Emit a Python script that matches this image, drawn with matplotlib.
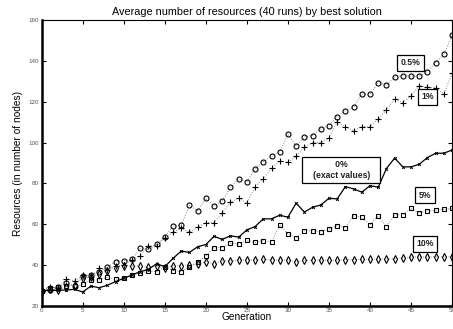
import numpy as np
import matplotlib
matplotlib.use('Agg')
import matplotlib.pyplot as plt

plt.rcParams['font.family'] = ['Liberation Sans', 'DejaVu Sans']

# # data

generations = list(range(51))

# 0.5% (circles)
res_05 = [27.4, 27.7, 29.3, 31.0, 29.8, 34.7, 35.0, 36.7, 38.8, 41.6,
          42.0, 42.7, 48.1, 47.6, 50.2, 53.8, 59.0, 59.5, 69.2, 66.6,
          72.6, 68.9, 71.3, 78.1, 82.2, 80.9, 87.0, 90.7, 93.2, 95.6,
          104.0, 98.5, 102.7, 103.5, 106.7, 108.4, 112.8, 115.6, 117.4, 123.8,
          123.8, 129.5, 128.3, 132.1, 132.9, 132.6, 132.6, 134.9, 139.3, 143.4,
          152.6]

# 1% (plus)
res_1 = [27.0, 29.3, 28.5, 33.0, 32.3, 35.0, 34.0, 38.5, 37.5, 39.5,
         40.0, 42.5, 44.3, 49.3, 49.5, 53.2, 56.0, 58.0, 56.0, 58.5,
         60.8, 60.8, 65.4, 70.8, 72.7, 70.3, 78.4, 82.2, 87.5, 91.0,
         90.4, 93.2, 97.8, 100.0, 100.0, 102.2, 110.3, 107.6, 105.9, 107.9,
         107.9, 111.5, 116.1, 121.5, 119.7, 122.9, 128.0, 127.2, 127.0, 123.9,
         134.0]

# 0% exact values (solid line)
res_0 = [27.4, 27.5, 27.5, 27.7, 28.0, 26.7, 29.6, 28.8, 30.0, 31.8,
         33.4, 35.0, 36.7, 37.8, 40.6, 39.1, 43.2, 46.8, 46.1, 48.9,
         50.0, 54.0, 52.5, 54.3, 53.6, 57.2, 58.8, 62.6, 62.6, 64.4,
         63.4, 70.3, 65.9, 68.3, 69.4, 72.7, 72.4, 78.4, 77.3, 75.7,
         78.9, 78.1, 87.3, 92.4, 88.1, 88.1, 89.4, 92.7, 94.8, 94.8,
         96.4]

# 5% (squares)
res_5 = [27.0, 28.5, 29.3, 29.8, 29.8, 30.5, 32.6, 32.6, 33.9, 32.9,
         33.7, 35.0, 36.2, 36.8, 36.7, 39.1, 37.2, 36.7, 39.1, 41.3,
         44.5, 48.5, 48.5, 50.6, 50.3, 52.0, 51.0, 51.9, 51.3, 59.5,
         55.2, 53.3, 56.8, 56.8, 56.3, 57.5, 59.3, 58.3, 64.2, 63.4,
         59.6, 64.0, 58.8, 64.7, 64.4, 67.8, 65.4, 66.5, 66.8, 67.3,
         67.8]

# 10% (diamonds)
res_10 = [27.0, 28.2, 27.7, 29.0, 30.3, 33.4, 34.2, 35.5, 37.2, 38.5,
          39.4, 39.4, 39.4, 38.8, 39.4, 38.6, 39.6, 39.6, 40.1, 40.4,
          41.6, 40.4, 42.0, 42.0, 42.4, 42.5, 42.3, 42.8, 42.4, 42.4,
          42.4, 41.5, 42.2, 42.3, 42.3, 42.3, 42.3, 42.5, 42.6, 42.7,
          42.7, 42.8, 42.8, 43.0, 43.5, 43.8, 44.0, 43.8, 44.0, 44.0,
          44.0]

labels = ['0.5%', '1%', '0%\n(exact values)', '5%', '10%']
label_pos = [(44.9, 139.1), (47.0, 122.5), (36.5, 86.6), (46.7, 74.2), (46.7, 50.3)]

fig = plt.figure(figsize=(4.53, 3.29), dpi=100)
ax = fig.add_axes([0.092, 0.071, 0.906, 0.867])

dot_style = dict(linestyle=':', color='#888888', linewidth=0.7,
                 markerfacecolor='none', markeredgecolor='black',
                 markeredgewidth=0.8)

ax.plot(generations, res_05, marker='o', markersize=3.6, **dot_style)
ax.plot(generations, res_1, marker='+', markersize=3.8, **dot_style)
ax.plot(generations, res_5, marker='s', markersize=3.0, **dot_style)
ax.plot(generations, res_10, marker='d', markersize=3.6, **dot_style)
ax.plot(generations, res_0, color='black', linewidth=0.9, marker='x',
        markersize=2, markeredgewidth=0.7)

for txt, (x, y) in zip(labels, label_pos):
    # the 0% box is wider in the original
    if txt.startswith('0%'):
        txt = '   ' + txt.replace('\n', '   \n   ') + '   '
    ax.text(x, y, txt, ha='center', va='center', fontsize=6.2,
            fontweight='bold', color='#222222', linespacing=1.25,
            bbox=dict(boxstyle='square,pad=0.4', facecolor='white',
                      edgecolor='black', linewidth=0.9))

ax.set_xlim(0, 50)
ax.set_ylim(20, 160)
ax.set_xticks(range(0, 51, 5))
ax.set_yticks(range(20, 161, 20))
ax.tick_params(direction='in', length=3, width=0.8, labelsize=4.5,
               labelcolor='#555555', top=True, right=True, pad=2)

for side in ['left', 'bottom']:
    ax.spines[side].set_linewidth(1.8)
for side in ['top', 'right']:
    ax.spines[side].set_linewidth(0.8)

ax.set_title('Average number of resources (40 runs) by best solution',
             fontsize=7.8, pad=4)
ax.set_xlabel('Generation', fontsize=7.3, labelpad=-1)
ax.set_ylabel('Resources (in number of nodes)', fontsize=7.3, labelpad=4)

plt.savefig('out.png', dpi=100)
